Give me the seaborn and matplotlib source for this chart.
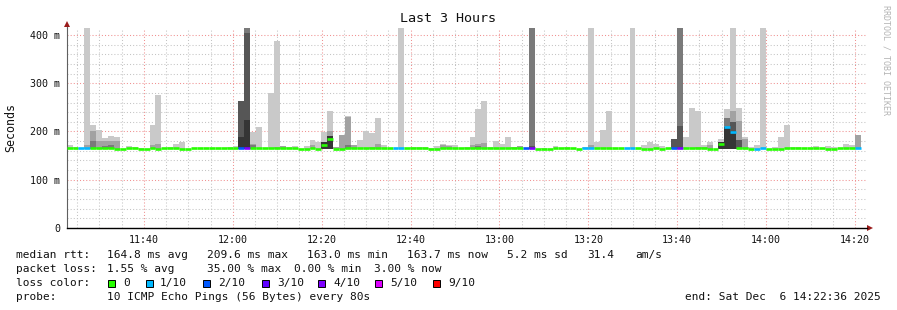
import numpy as np
import pandas as pd
import matplotlib
matplotlib.use("Agg")
import matplotlib.pyplot as plt
from matplotlib.patches import Rectangle
import seaborn as sns

n = np.nan

# ---------------- data ----------------
start_label = "11:22:36"
step_seconds = 80

# median rtt (ms) per 80 s step
median_ms = [
    165, 165, 165, 165, 165, 165, 165, 165, 163.5, 163.5, 165, 165, 163.5, 163.5, 165,
    163.5, 165, 165, 165, 163.5, 163.5, 165, 165, 165, 165, 165, 165, 165, 165, 165,
    165, 166.5, 165, 165, 165, 165, 165, 165, 165, 163.5, 163.5, 165, 163.5, 173, 185,
    163.5, 163.5, 165, 165, 165, 165, 165, 165, 165, 165, 165, 165, 165, 165, 165,
    165, 163.5, 163.5, 165, 165, 165, 165, 165, 165, 165, 165, 165, 165, 165, 165,
    165, 165, 165, 165, 163.5, 163.5, 163.5, 165, 165, 165, 165, 163.5, 165, 165, 165,
    165, 165, 165, 165, 165, 165, 165, 163.5, 163.5, 165, 163.5, 165, 165, 165, 165,
    165, 165, 165, 163.5, 163.5, 175, 210, 198, 165, 165, 163.5, 163.5, 165, 163.5, 163.5,
    163.5, 165, 165, 165, 165, 165, 165, 165, 163.5, 163.5, 165, 165, 165, 165, n,
]

# lost pings out of 10 per step
loss_count = [
    0, 0, 1, 1, 0, 0, 0, 0, 0, 0, 0, 0, 0, 0, 0,
    0, 0, 0, 0, 0, 0, 0, 0, 0, 0, 0, 0, 0, 0, 2,
    4, 0, 0, 0, 0, 0, 0, 0, 0, 0, 0, 0, 0, 0, 0,
    0, 0, 0, 0, 0, 0, 0, 0, 0, 0, 1, 1, 0, 0, 0,
    0, 0, 0, 0, 0, 0, 0, 0, 0, 0, 0, 0, 0, 0, 0,
    0, 0, 2, 4, 0, 0, 0, 0, 0, 0, 0, 0, 1, 1, 0,
    0, 0, 0, 0, 1, 1, 0, 0, 0, 0, 0, 0, 2, 4, 0,
    0, 0, 0, 0, 0, 0, 1, 1, 0, 0, 0, 1, 1, 0, 0,
    0, 0, 0, 0, 0, 0, 0, 0, 0, 0, 0, 0, 0, 1, 0,
]

# smoke layers (top of each grey band, ms), light -> dark
light_idx = [0, 1, 2, 3, 4, 5, 6, 7, 8, 10, 11, 12, 14, 15, 17, 18, 19, 27, 28, 31, 32, 34, 35,
             37, 38, 40, 41, 42, 43, 44, 47, 49, 50, 51, 52, 53, 56, 58, 59, 60, 61, 62, 63, 64,
             65, 67, 68, 69, 70, 71, 72, 73, 74, 80, 82, 84, 87, 88, 89, 90, 91, 95, 97, 98, 99,
             100, 104, 105, 106, 107, 108, 110, 111, 112, 113, 114, 115, 116, 117, 119, 120, 121,
             122, 123, 126, 128, 129, 131, 132]
light_top = [172, 168, 166, 420, 213, 203, 187, 191, 189, 170, 168, 166, 213, 276, 168, 174, 178,
             168, 170, 199, 209, 280, 387, 168, 170, 170, 182, 178, 198, 243, 232, 182, 201, 197,
             228, 172, 420, 167, 168, 168, 166, 170, 174, 172, 172, 168, 189, 247, 263, 168, 180,
             175, 189, 166, 170, 168, 168, 420, 178, 203, 242, 420, 172, 178, 174, 170, 189, 249,
             242, 172, 178, 184, 247, 420, 249, 189, 168, 172, 420, 168, 189, 213, 168, 168, 170,
             170, 168, 174, 172]

mid_idx = [3, 4, 5, 6, 7, 8, 14, 15, 31, 35, 36, 41, 44, 45, 46, 47, 48, 51, 52, 63, 64, 68, 69,
           70, 75, 76, 88, 106, 107, 108, 110, 112, 113, 114, 133]
mid_top = [172, 202, 181, 181, 181, 181, 172, 174, 174, 168, 170, 172, 200, 168, 193, 230, 172,
           168, 174, 172, 170, 172, 174, 176, 168, 170, 172, 168, 168, 172, 176, 242, 222, 184, 193]

dkmid_idx = [4, 6, 7, 30, 31, 47, 69, 78, 103, 111]
dkmid_top = [180, 170, 171, 420, 172, 172, 170, 420, 420, 228]

dark_idx = [29, 30, 78, 102, 103, 112, 113]
dark_top = [264, 404, 170, 184, 211, 220, 182]

black_idx = [29, 30, 43, 44, 110, 111, 112]
black_top = [189, 224, 178, 190, 178, 209, 200]

loss_palette = {0: "#26ff00", 1: "#00b8ff", 2: "#0059ff", 3: "#5e00ff",
                4: "#7e00ff", 5: "#dd00ff", 9: "#ff0000"}
loss_labels = ["0", "1/10", "2/10", "3/10", "4/10", "5/10", "9/10"]

y_ticks = [0, 100, 200, 300, 400]
y_ticklabels = ["0", "100 m", "200 m", "300 m", "400 m"]
x_ticklabels = ["11:40", "12:00", "12:20", "12:40", "13:00", "13:20", "13:40", "14:00", "14:20"]

# ---------------- style ----------------
sns.set_theme(style="white")
plt.rcParams["font.family"] = ["DejaVu Sans Mono", "DejaVu Sans"]

W, H = 897, 310
fig = plt.figure(figsize=(W / 100, H / 100), dpi=100, facecolor="white")
ax = fig.add_axes([66.6 / W, 82 / H, 800 / W, 200 / H])
ax.set_facecolor("white")

hh, mm, ss = [int(v) for v in start_label.split(":")]
t0 = hh * 60 + mm + ss / 60.0
step = step_seconds / 60.0
n_steps = len(median_ms)

base_ms = 163.0
layers = [
    (light_idx, light_top, "#c9c9c9"),
    (mid_idx, mid_top, "#a2a2a2"),
    (dkmid_idx, dkmid_top, "#7a7a7a"),
    (dark_idx, dark_top, "#565656"),
    (black_idx, black_top, "#353535"),
]
for idx, top, col in layers:
    d = pd.DataFrame({"t": t0 + (np.array(idx) + 0.5) * step,
                      "h": np.array(top, dtype=float) - base_ms})
    sns.barplot(data=d, x="t", y="h", native_scale=True, width=1.0, color=col,
                saturation=1, errorbar=None, bottom=base_ms, linewidth=0, ax=ax, zorder=2)


def loss_color(k):
    keys = [c for c in sorted(loss_palette) if c <= k]
    return loss_palette[keys[-1]]


med = np.array(median_ms, dtype=float)
loss = np.array(loss_count)
valid = ~np.isnan(med)
left = t0 + np.arange(n_steps) * step
ax.hlines(med[valid], left[valid], left[valid] + step,
          colors=[loss_color(k) for k in loss[valid]], lw=1.9, zorder=4)

# axes / grid
ax.set_xlim(t0, t0 + 180)
ax.set_ylim(0, 414.5)
major_x = [int(s.split(":")[0]) * 60 + int(s.split(":")[1]) for s in x_ticklabels]
ax.set_xticks(major_x)
ax.set_xticklabels(x_ticklabels)
ax.set_xticks(np.arange(685, t0 + 180, 5), minor=True)
ax.set_yticks(y_ticks)
ax.set_yticklabels(y_ticklabels)
ax.set_yticks(np.arange(20, 414, 20), minor=True)
ax.set_xlabel("")
ax.set_ylabel("")

ax.set_axisbelow(True)
ax.grid(which="minor", color="#c4c4c4", linestyle=(0, (1, 2)), lw=0.75)
ax.grid(which="major", color="#f09090", linestyle=(0, (1, 2)), lw=0.75)

ax.tick_params(axis="both", which="major", direction="out", length=2.2, width=0.7,
               color="#404040", labelsize=7.2, pad=2.5, labelcolor="#111111")
ax.tick_params(axis="both", which="minor", direction="out", length=1.4, width=0.6,
               color="#606060")
for s in ["top", "right"]:
    ax.spines[s].set_visible(False)
ax.spines["left"].set_color("#606060")
ax.spines["left"].set_linewidth(0.8)
ax.spines["bottom"].set_color("#000000")
ax.spines["bottom"].set_linewidth(1.0)

# axis arrows
ax.plot([0, 0], [1, 1.02], transform=ax.transAxes, clip_on=False, color="#606060", lw=0.8)
ax.plot([0], [1.02], marker="^", ms=4, color="#9b1c1c", transform=ax.transAxes,
        clip_on=False, markeredgewidth=0)
ax.plot([1, 1.003], [0, 0], transform=ax.transAxes, clip_on=False, color="#000000", lw=1.0)
ax.plot([1.0048], [0], marker=">", ms=4, color="#9b1c1c", transform=ax.transAxes,
        clip_on=False, markeredgewidth=0)


def fx(px):
    return px / W


def fy(py):
    return 1 - py / H


fig.text(fx(448), fy(19), "Last 3 Hours", ha="center", va="center", fontsize=9.6, color="#111")
fig.text(fx(11), fy(127.5), "Seconds", rotation=90, ha="center", va="center", fontsize=8.4,
         color="#111")
fig.text(fx(886), fy(5), "RRDTOOL / TOBI OETIKER", rotation=270, ha="center", va="top",
         fontsize=6, color="#b4b4b4")

fs = 8.0
row1 = [(16, "median rtt:"), (107, "164.8 ms avg"), (207, "209.6 ms max"), (307, "163.0 ms min"),
        (407, "163.7 ms now"), (507, "5.2 ms sd"), (587, "31.4"), (635, "am/s")]
row2 = [(16, "packet loss:"), (107, "1.55 % avg"), (207, "35.00 % max"), (294, "0.00 % min"),
        (374, "3.00 % now")]
for x, s in row1:
    fig.text(fx(x), fy(255), s, ha="left", va="center", fontsize=fs, color="#111")
for x, s in row2:
    fig.text(fx(x), fy(268.5), s, ha="left", va="center", fontsize=fs, color="#111")

fig.text(fx(16), fy(283), "loss color:", ha="left", va="center", fontsize=fs, color="#111")
box_x = [108, 146, 203, 262, 318, 375, 433]
text_x = [123, 160, 218, 277, 333, 390, 448]
for bx, tx, lab, key in zip(box_x, text_x, loss_labels, sorted(loss_palette)):
    fig.patches.append(Rectangle((fx(bx), fy(286.5)), 7 / W, 7 / H, transform=fig.transFigure,
                                 facecolor=loss_palette[key], edgecolor="black", lw=0.7))
    fig.text(fx(tx), fy(283), lab, ha="left", va="center", fontsize=fs, color="#111")

fig.text(fx(16), fy(297), "probe:", ha="left", va="center", fontsize=fs, color="#111")
fig.text(fx(107), fy(297), "10 ICMP Echo Pings (56 Bytes) every 80s", ha="left", va="center",
         fontsize=fs, color="#111")
fig.text(fx(881), fy(297), "end: Sat Dec  6 14:22:36 2025", ha="right", va="center",
         fontsize=fs, color="#111")

fig.savefig("out.png", dpi=100, facecolor="white")
